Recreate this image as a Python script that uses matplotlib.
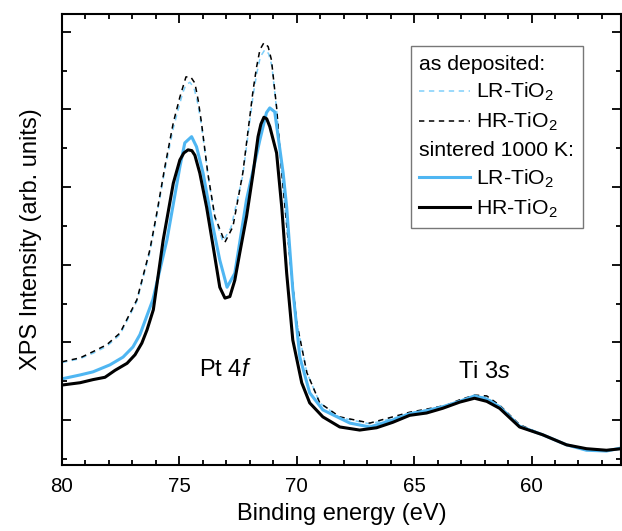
import matplotlib
matplotlib.use("Agg")
import matplotlib.pyplot as plt
from matplotlib.lines import Line2D
from matplotlib.ticker import MultipleLocator, NullFormatter

plt.rcParams['font.family'] = ['Liberation Sans', 'DejaVu Sans']
plt.rcParams['mathtext.fontset'] = 'custom'
plt.rcParams['mathtext.rm'] = 'Liberation Sans'
plt.rcParams['mathtext.it'] = 'Liberation Sans:italic'

# ---- datos (energia de enlace en eV, intensidad arb.)
# HR-TiO2 sinterizado 1000 K (negro continuo)
e_hr_sint = [80.0, 79.23, 78.68, 78.17, 77.74, 77.23, 76.89, 76.60, 76.38, 76.11,
             75.69, 75.26, 74.98, 74.81, 74.63, 74.47, 74.34, 74.13, 73.84, 73.56,
             73.28, 73.06, 72.85, 72.64, 72.43, 72.14, 71.86, 71.65, 71.53, 71.40,
             71.28, 71.15, 70.86, 70.64, 70.43, 70.17, 69.79, 69.45, 68.89, 68.17,
             67.32, 66.60, 65.91, 65.19, 64.47, 63.79, 63.06, 62.43, 61.91, 61.36,
             60.51, 59.53, 58.51, 57.66, 56.81, 56.17]
i_hr_sint = [0.45, 0.48, 0.52, 0.55, 0.64, 0.73, 0.84, 0.99, 1.16, 1.42,
             2.32, 3.05, 3.35, 3.44, 3.48, 3.47, 3.41, 3.18, 2.74, 2.23,
             1.71, 1.57, 1.59, 1.80, 2.15, 2.62, 3.18, 3.65, 3.81, 3.90,
             3.88, 3.78, 3.44, 2.74, 1.89, 1.03, 0.48, 0.22, 0.04, -0.09,
             -0.13, -0.10, -0.03, 0.06, 0.09, 0.15, 0.23, 0.28, 0.24, 0.15,
             -0.09, -0.19, -0.32, -0.37, -0.39, -0.37]

# LR-TiO2 sinterizado 1000 K (azul continuo)
e_lr_sint = [80.0, 79.23, 78.68, 77.96, 77.40, 76.98, 76.68, 76.13, 75.53, 74.98,
             74.77, 74.48, 74.27, 73.99, 73.63, 73.28, 72.97, 72.64, 72.14, 71.57,
             71.29, 71.15, 70.94, 70.58, 70.43, 70.17, 69.87, 69.45, 68.89, 67.74,
             66.89, 65.91, 65.19, 64.47, 63.79, 63.06, 62.43, 61.91, 61.36, 60.51,
             59.53, 58.51, 57.66, 56.81, 56.17]
i_lr_sint = [0.53, 0.58, 0.62, 0.71, 0.81, 0.94, 1.10, 1.55, 2.32, 3.26,
             3.57, 3.65, 3.52, 3.18, 2.58, 2.06, 1.71, 1.89, 2.84, 3.61,
             3.96, 4.02, 3.97, 3.18, 2.74, 1.68, 0.81, 0.35, 0.13, -0.04,
             -0.09, 0.00, 0.08, 0.12, 0.17, 0.24, 0.31, 0.27, 0.17, -0.08,
             -0.19, -0.32, -0.39, -0.40, -0.36]

# HR-TiO2 depositado (negro discontinuo)
e_hr_dep = [80.0, 79.23, 78.68, 78.09, 77.53, 76.81, 76.26, 75.96, 75.62, 75.26,
            74.98, 74.85, 74.72, 74.52, 74.34, 74.20, 74.06, 73.79, 73.49, 73.06,
            72.72, 72.30, 71.86, 71.71, 71.57, 71.40, 71.22, 71.08, 70.86, 70.64,
            70.30, 70.00, 69.57, 69.02, 68.17, 66.89, 65.91, 65.19, 64.47, 63.62,
            63.06, 62.43, 61.91, 61.36, 60.51, 59.53, 58.51, 57.66, 56.81, 56.17]
i_hr_dep = [0.75, 0.80, 0.88, 0.97, 1.12, 1.55, 2.19, 2.67, 3.26, 3.83,
            4.16, 4.29, 4.42, 4.42, 4.34, 4.12, 3.83, 3.18, 2.62, 2.29,
            2.49, 3.18, 4.25, 4.55, 4.77, 4.86, 4.81, 4.64, 4.03, 3.18,
            2.10, 1.25, 0.61, 0.22, 0.04, -0.04, 0.04, 0.10, 0.14, 0.19,
            0.26, 0.32, 0.31, 0.19, -0.06, -0.19, -0.32, -0.37, -0.39, -0.37]

# LR-TiO2 depositado (celeste discontinuo)
e_lr_dep = [80.0, 79.23, 78.68, 78.09, 77.53, 76.81, 76.26, 75.96, 75.62, 75.26,
            74.98, 74.85, 74.72, 74.55, 74.38, 74.22, 74.06, 73.79, 73.49, 73.15,
            72.80, 72.30, 71.86, 71.70, 71.55, 71.36, 71.20, 71.06, 70.86, 70.64,
            70.30, 70.00, 69.57, 69.02, 68.17, 66.89, 65.91, 65.19, 64.47, 63.62,
            63.06, 62.43, 61.91, 61.36, 60.51, 59.53, 58.51, 57.66, 56.81, 56.17]
i_lr_dep = [0.74, 0.79, 0.86, 0.95, 1.10, 1.53, 2.16, 2.64, 3.22, 3.76,
            4.08, 4.22, 4.32, 4.35, 4.28, 4.08, 3.80, 3.16, 2.61, 2.30,
            2.48, 3.15, 4.18, 4.47, 4.68, 4.77, 4.72, 4.56, 4.00, 3.16,
            2.10, 1.25, 0.61, 0.22, 0.03, -0.05, 0.02, 0.09, 0.13, 0.18,
            0.25, 0.31, 0.29, 0.18, -0.07, -0.19, -0.32, -0.38, -0.39, -0.37]

azul = "#4fb6f2"
celeste = "#7fd0fb"

fig = plt.figure(figsize=(6.22, 5.31), dpi=100)
ax = fig.add_axes([0.0997, 0.1243, 0.8983, 0.8493])

ax.plot(e_lr_dep, i_lr_dep, color=celeste, lw=1.1, dashes=(3.5, 3))
ax.plot(e_hr_dep, i_hr_dep, color="black", lw=1.1, dashes=(3.5, 3))
ax.plot(e_lr_sint, i_lr_sint, color=azul, lw=2.2)
ax.plot(e_hr_sint, i_hr_sint, color="black", lw=2.2)

ax.set_xlim(80, 56.2)
ax.set_ylim(-0.58, 5.23)

# Ejes y ticks
ax.xaxis.set_major_locator(MultipleLocator(5))
ax.xaxis.set_minor_locator(MultipleLocator(1))
ax.yaxis.set_major_locator(MultipleLocator(1))
ax.yaxis.set_minor_locator(MultipleLocator(0.5))
ax.yaxis.set_major_formatter(NullFormatter())
ax.tick_params(which="both", direction="in", top=True, right=True, width=1.3)
ax.tick_params(which="major", length=6.5)
ax.tick_params(which="minor", length=3.8)
ax.tick_params(axis="x", labelsize=14.8, pad=9)
for s in ax.spines.values():
    s.set_linewidth(1.5)

ax.set_xlabel("Binding energy (eV)", fontsize=17, labelpad=5)
ax.set_ylabel("XPS Intensity (arb. units)", fontsize=17, labelpad=11)

# Anotaciones
ax.text(73.06, 0.64, r"Pt 4$\it{f}$", fontsize=17, ha="center", va="center")
ax.text(62.0, 0.62, r"Ti 3$\it{s}$", fontsize=17, ha="center", va="center")

# Leyenda con encabezados
vacio = Line2D([], [], color="none")
handles = [vacio,
           Line2D([], [], color=celeste, lw=1.1, dashes=(3.5, 3)),
           Line2D([], [], color="black", lw=1.1, dashes=(3.5, 3)),
           vacio,
           Line2D([], [], color=azul, lw=2.2),
           Line2D([], [], color="black", lw=2.2)]
labels = ["as deposited:", "LR-TiO$_2$", "HR-TiO$_2$",
          "sintered 1000 K:", "LR-TiO$_2$", "HR-TiO$_2$"]
headers = ["as deposited:", "sintered 1000 K:"]

leg = ax.legend(handles, labels, loc="upper right", bbox_to_anchor=(0.932, 0.929),
                borderaxespad=0, fontsize=15.3, frameon=True, fancybox=False,
                edgecolor="#555555", handlelength=2.4, handletextpad=0.25,
                labelspacing=0.36, borderpad=0.4)
leg.get_frame().set_linewidth(1.0)
for col in leg._legend_handle_box.get_children():
    for row in col.get_children():
        da, ta = row.get_children()
        if ta.get_text() in headers:
            da.set_width(0)
            row.sep = 0

fig.savefig("out.png", dpi=100)
